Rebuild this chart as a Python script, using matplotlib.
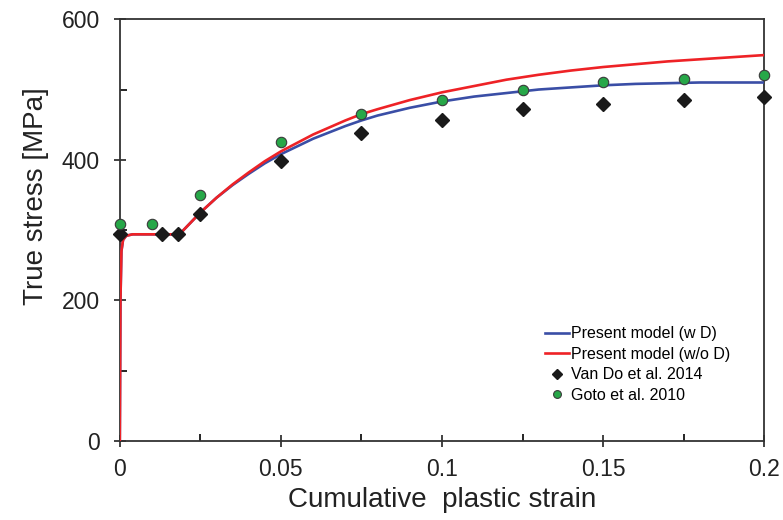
import matplotlib.pyplot as plt

# strain values for the model curves
model_strain = [0, 0.0002, 0.0005, 0.001, 0.002, 0.004, 0.0185, 0.025, 0.03, 0.035, 0.04,
                0.045, 0.05, 0.06, 0.07, 0.075, 0.08, 0.09, 0.1, 0.11, 0.12, 0.13, 0.14,
                0.15, 0.16, 0.17, 0.18, 0.19, 0.2]
with_d = [0, 200, 270, 286, 292, 294, 294, 325, 346, 364, 380,
          395, 408, 430, 448, 456, 463, 474, 483, 490, 495, 500, 503,
          506, 508, 509, 510, 510, 510]
without_d = [0, 200, 270, 286, 292, 294, 294, 325, 346, 365, 382,
             398, 412, 436, 456, 465, 472, 485, 496, 505, 514, 521, 527,
             532, 536, 540, 543, 546, 549]

# experiments
vando_strain = [0, 0.013, 0.018, 0.025, 0.05, 0.075, 0.1, 0.125, 0.15, 0.175, 0.2]
vando_stress = [294, 294, 294, 323, 398, 438, 457, 472, 480, 485, 490]
goto_strain = [0, 0.01, 0.025, 0.05, 0.075, 0.1, 0.125, 0.15, 0.175, 0.2]
goto_stress = [308, 308, 350, 425, 465, 485, 500, 510, 515, 520]

plt.rcParams['font.family'] = ['Liberation Sans', 'DejaVu Sans']

fig = plt.figure(figsize=(7.83, 5.2), dpi=100)
ax = fig.add_axes([0.153, 0.152, 0.823, 0.811])

ax.plot(model_strain, with_d, color='#3a4ea6', lw=1.9, label='Present model (w D)', zorder=3)
ax.plot(model_strain, without_d, color='#ee2226', lw=1.9, label='Present model (w/o D)', zorder=3)
ax.plot(vando_strain, vando_stress, 'D', color='#1a1a1a', ms=7.3, ls='none',
        label='Van Do et al. 2014', zorder=4, clip_on=False)
ax.plot(goto_strain, goto_stress, 'o', color='#27a748', mec='#3a3a3a', mew=0.8, ms=7.5,
        ls='none', label='Goto et al. 2010', zorder=5, clip_on=False)

ax.set_xlim(0, 0.2)
ax.set_ylim(0, 600)
ax.set_xticks([0, 0.05, 0.1, 0.15, 0.2])
ax.set_xticklabels(['0', '0.05', '0.1', '0.15', '0.2'])
ax.set_yticks([0, 200, 400, 600])
ax.set_xticks([0.025, 0.075, 0.125, 0.175], minor=True)
ax.set_yticks([100, 300, 500], minor=True)
ax.tick_params(which='major', direction='inout', length=9, width=1.2, labelsize=16.5,
               colors='#222222')
ax.tick_params(which='minor', direction='in', length=5, width=1.2)
ax.tick_params(axis='x', which='major', pad=8)
ax.tick_params(axis='y', which='major', pad=10)
for s in ax.spines.values():
    s.set_linewidth(1.3)
    s.set_color('#333333')

ax.set_xlabel('Cumulative  plastic strain', fontsize=20, color='#222222', labelpad=4)
ax.set_ylabel('True stress [MPa]', fontsize=20, color='#222222')
ax.yaxis.set_label_coords(-0.11, 0.58)

ax.legend(loc='lower left', bbox_to_anchor=(0.65, 0.075), frameon=False, fontsize=11.5,
          handlelength=1.5, handletextpad=0.1, labelspacing=0.35, markerscale=0.75,
          borderaxespad=0)

fig.savefig('out.png', dpi=100)
